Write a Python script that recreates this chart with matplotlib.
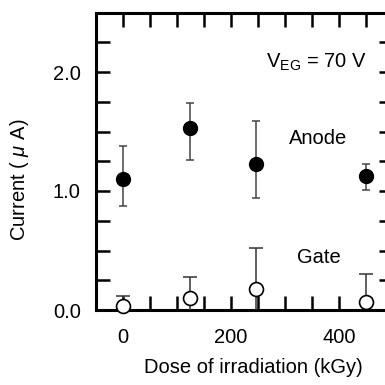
import matplotlib
matplotlib.use('Agg')
import matplotlib.pyplot as plt
from matplotlib.ticker import MultipleLocator, FormatStrFormatter

plt.rcParams['font.family'] = ['Liberation Sans', 'DejaVu Sans']
plt.rcParams['mathtext.fontset'] = 'custom'
plt.rcParams['mathtext.rm'] = 'Liberation Sans'
plt.rcParams['mathtext.it'] = 'Liberation Sans:italic'

# 数据
dose = [0, 124, 246, 450]
anode = [1.10, 1.53, 1.23, 1.13]
anode_err_low = [0.23, 0.27, 0.29, 0.12]
anode_err_high = [0.28, 0.21, 0.36, 0.10]
gate = [0.03, 0.10, 0.18, 0.07]
gate_err = [0.09, 0.18, 0.34, 0.23]

fs = 14.5
fig = plt.figure(figsize=(3.85, 3.85), dpi=100)
# 右边框落在图像外（原图被裁切）
ax = fig.add_axes([96/385, 75/385, 297/385, 297.5/385])

# 阳极电流：实心圆
ax.errorbar(dose, anode, yerr=[anode_err_low, anode_err_high], fmt='o',
            color='black', ecolor='#444444', elinewidth=1.1, capsize=2.8,
            capthick=1.1, markersize=10, zorder=3)
# 栅极电流：空心圆
ax.errorbar(dose, gate, yerr=gate_err, fmt='none', ecolor='#333333',
            elinewidth=1.1, capsize=5, capthick=1.1, zorder=3)
ax.plot(dose, gate, 'o', markerfacecolor='white', markeredgecolor='black',
        markeredgewidth=1.2, markersize=10, zorder=5, clip_on=False)

ax.set_xlim(-50, 500)
ax.set_ylim(0, 2.5)
ax.xaxis.set_major_locator(MultipleLocator(200))
ax.xaxis.set_minor_locator(MultipleLocator(50))
ax.yaxis.set_major_locator(MultipleLocator(1.0))
ax.yaxis.set_minor_locator(MultipleLocator(0.25))
ax.yaxis.set_major_formatter(FormatStrFormatter('%.1f'))
ax.tick_params(which='both', direction='in', length=10, width=1.8,
               top=True, right=True, labelsize=fs)
ax.tick_params(axis='y', pad=11)
ax.tick_params(axis='x', pad=13)
for sp in ax.spines.values():
    sp.set_linewidth(2.2)

ax.text(452, 2.04, r'V$_{\rm EG}$ = 70 V', fontsize=fs, ha='right', va='baseline')
ax.text(362, 1.395, 'Anode', fontsize=fs, ha='center', va='baseline')
ax.text(362, 0.395, 'Gate', fontsize=fs, ha='center', va='baseline')

fig.text(20/385, 1 - 180/385, r'Current ( $\mu$ A)', fontsize=fs,
         rotation=90, ha='center', va='center')
fig.text(253.5/385, 1 - 373/385, 'Dose of irradiation (kGy)', fontsize=fs,
         ha='center', va='baseline')

plt.savefig('out.png', dpi=100)
